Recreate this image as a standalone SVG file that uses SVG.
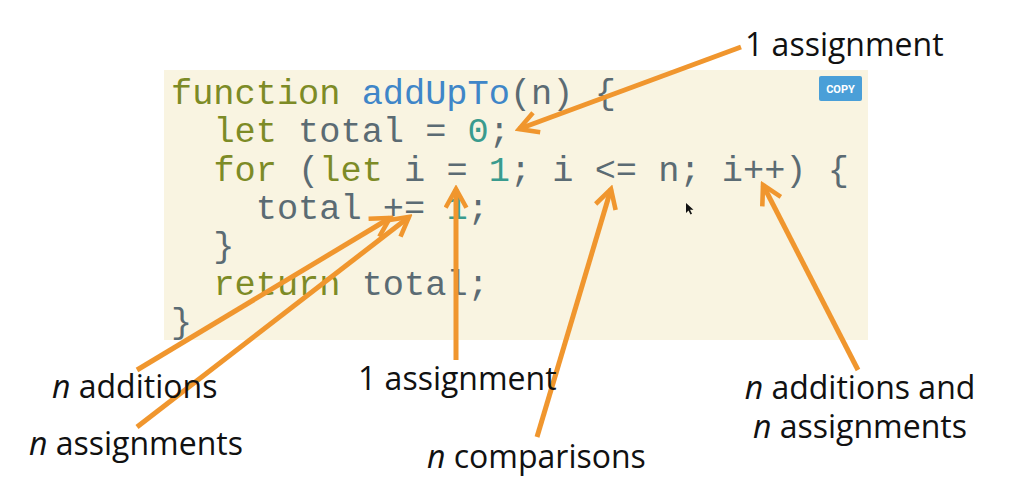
<svg xmlns="http://www.w3.org/2000/svg" width="1013" height="495" viewBox="0 0 1013 495">
<style>
.code{font-family:"Liberation Mono","DejaVu Sans Mono",monospace;font-size:35.3px;fill:#5b6b73}
.kw{fill:#7d8b26}
.fn{fill:#3f86c8}
.num{fill:#3a9b8e}
.lbl{font-family:"Open Sans","Noto Sans",sans-serif;font-size:32px;fill:#111}
.it{font-style:italic}
.conn line{stroke:#f0962e;stroke-width:5;stroke-linecap:butt;marker-end:url(#chev)}
</style>
<defs>
<marker id="chev" viewBox="0 0 12 12" refX="10" refY="6" markerWidth="5" markerHeight="5" orient="auto">
<path d="M1,1 L10,6 L1,11" fill="none" stroke="#f0962e" stroke-width="2.2"/>
</marker>
</defs>
<rect width="1013" height="495" fill="#fff"/>
<g id="code-block">
<rect x="164" y="70" width="704" height="270" fill="#f9f4e1"/>
<g id="copy-btn">
<rect x="819" y="76" width="43" height="25" rx="2" fill="#4a9fd8"/>
<text x="840.5" y="93" text-anchor="middle" font-family="Roboto,'Liberation Sans',sans-serif" font-size="11" font-weight="bold" fill="#fff">COPY</text>
</g>
<text class="code" xml:space="preserve"><tspan x="171" y="104"><tspan class="kw">function</tspan> <tspan class="fn">addUpTo</tspan>(n) {</tspan><tspan x="171" y="142">  <tspan class="kw">let</tspan> total = <tspan class="num">0</tspan>;</tspan><tspan x="171" y="181">  <tspan class="kw">for</tspan> (<tspan class="kw">let</tspan> i = <tspan class="num">1</tspan>; i &lt;= n; i++) {</tspan><tspan x="171" y="219">    total += <tspan class="num">1</tspan>;</tspan><tspan x="171" y="257">  }</tspan><tspan x="171" y="295">  <tspan class="kw">return</tspan> total;</tspan><tspan x="171" y="333">}</tspan></text>
<path id="cursor" d="M686,203 L686,213 L688.5,210.5 L690.5,214.5 L692,213.8 L690,209.8 L693.5,209.8 Z" fill="#111"/>
</g>
<g id="connectors" class="conn">
<line x1="741" y1="47" x2="519" y2="129"/>
<line x1="137" y1="370" x2="390" y2="218"/>
<line x1="137" y1="427" x2="409" y2="217"/>
<line x1="456" y1="360" x2="456" y2="189"/>
<line x1="537" y1="437" x2="611" y2="189"/>
<line x1="858" y1="370" x2="763" y2="185"/>
</g>
<g id="label-top"><text class="lbl" x="745" y="56">1 assignment</text></g>
<g id="label-add"><text class="lbl" x="52" y="398"><tspan class="it">n</tspan> additions</text></g>
<g id="label-assign"><text class="lbl" x="29" y="455"><tspan class="it">n</tspan> assignments</text></g>
<g id="label-one"><text class="lbl" x="358" y="390">1 assignment</text></g>
<g id="label-cmp"><text class="lbl" x="427" y="468"><tspan class="it">n</tspan> comparisons</text></g>
<g id="label-incr"><text class="lbl" text-anchor="middle" x="860" y="399"><tspan class="it">n</tspan> additions and</text><text class="lbl" text-anchor="middle" x="860" y="438"><tspan class="it">n</tspan> assignments</text></g>
</svg>
